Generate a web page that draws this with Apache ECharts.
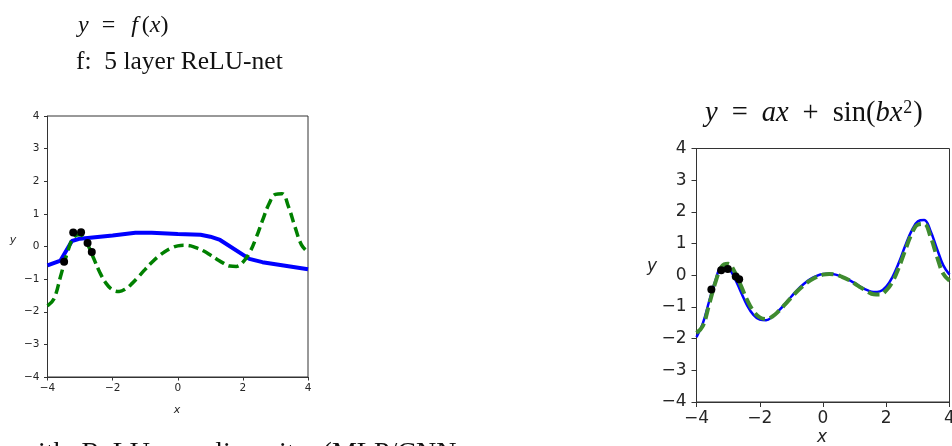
<!DOCTYPE html>
<html>
<head>
<meta charset="utf-8">
<script src="https://cdn.jsdelivr.net/npm/echarts@6/dist/echarts.min.js"></script>
<style>
html, body { margin: 0; padding: 0; background: #fff; }
#chart { width: 952px; height: 446px; }
</style>
</head>
<body>
<div id="chart"></div>
<script>
// x samples for the smooth curves
const xs = [-4.0, -3.8, -3.6, -3.4, -3.2, -3.0, -2.8, -2.6, -2.4, -2.2, -2.0, -1.8, -1.6, -1.4, -1.2, -1.0, -0.8, -0.6, -0.4, -0.2,
    0.0, 0.2, 0.4, 0.6, 0.8, 1.0, 1.2, 1.4, 1.6, 1.8, 2.0, 2.2, 2.4, 2.6, 2.8, 3.0, 3.2, 3.4, 3.6, 3.8, 4.0];

// true function y = ax + sin(bx^2) (green dashed, both panels)
const trueY = [-1.82, -1.60, -0.92, -0.22, 0.28, 0.36, 0.12, -0.32, -0.78, -1.13, -1.33, -1.38, -1.30, -1.13, -0.92, -0.70, -0.49, -0.31, -0.16, -0.05,
    0.02, 0.04, 0.02, -0.05, -0.14, -0.26, -0.39, -0.51, -0.60, -0.61, -0.48, -0.20, 0.25, 0.79, 1.30, 1.60, 1.62, 1.22, 0.60, 0.05, -0.17];

// fitted curve in the right panel (blue)
const fitY = [-1.95, -1.52, -0.82, -0.16, 0.25, 0.22, -0.08, -0.52, -0.95, -1.25, -1.40, -1.42, -1.31, -1.12, -0.90, -0.67, -0.45, -0.27, -0.12, -0.02,
    0.04, 0.05, 0.02, -0.05, -0.14, -0.25, -0.37, -0.47, -0.53, -0.51, -0.36, -0.05, 0.40, 0.93, 1.40, 1.70, 1.74, 1.40, 0.85, 0.32, 0.02];

// 5 layer ReLU-net fit (left panel, piecewise linear)
const reluX = [-4.0, -3.6, -3.25, -3.0, -2.0, -1.3, -0.8, 0.0, 0.7, 1.0, 1.3, 2.2, 2.6, 4.0];
const reluY = [-0.58, -0.43, 0.17, 0.24, 0.34, 0.42, 0.42, 0.38, 0.36, 0.30, 0.20, -0.38, -0.48, -0.70];

// training samples
const leftPtsX = [-3.49, -3.21, -2.97, -2.77, -2.64];
const leftPtsY = [-0.47, 0.43, 0.44, 0.11, -0.17];
const rightPtsX = [-3.53, -3.22, -3.01, -2.76, -2.65];
const rightPtsY = [-0.45, 0.16, 0.20, -0.04, -0.13];

const pairs = (a, b) => a.map((v, i) => [v, b[i]]);
const minus = v => String(v).replace('-', '\u2212');

const chart = echarts.init(document.getElementById('chart'));

function xAxis(idx, fs, margin, tick) {
    return {
        type: 'value', gridIndex: idx, min: -4, max: 4, interval: 2,
        axisLine: { show: true, onZero: false, lineStyle: { color: '#333', width: 1 } },
        axisTick: { show: true, length: tick, lineStyle: { color: '#333' } },
        axisLabel: { fontSize: fs, color: '#262626', margin: margin, fontFamily: 'DejaVu Sans', formatter: minus,
            showMinLabel: true, showMaxLabel: true },
        splitLine: { show: false }
    };
}
function yAxis(idx, fs, margin, tick) {
    return {
        type: 'value', gridIndex: idx, min: -4, max: 4, interval: 1,
        axisLine: { show: true, onZero: false, lineStyle: { color: '#333', width: 1 } },
        axisTick: { show: true, length: tick, lineStyle: { color: '#333' } },
        axisLabel: { fontSize: fs, color: '#262626', margin: margin, fontFamily: 'DejaVu Sans', formatter: minus },
        splitLine: { show: false }
    };
}

const serif = 'Liberation Serif, DejaVu Serif, serif';

chart.setOption({
    animation: false,
    grid: [
        { left: 47.5, top: 116, width: 260.5, height: 261, show: true, borderColor: '#333', borderWidth: 1,
          outerBoundsMode: 'none', containLabel: false },
        { left: 696.5, top: 148.5, width: 253, height: 253.5, show: true, borderColor: '#333', borderWidth: 1,
          outerBoundsMode: 'none', containLabel: false }
    ],
    xAxis: [xAxis(0, 10.5, 6, 3.5), xAxis(1, 17, 8, 5)],
    yAxis: [yAxis(0, 10.5, 8, 3.5), yAxis(1, 17, 10, 5)],
    graphic: [
        { type: 'text', left: 78, top: 14, style: {
            text: '{i|y}{o|=}{f|f}({i|x})', font: '24px ' + serif, fill: '#111',
            rich: { i: { fontStyle: 'italic', fontSize: 24, fontFamily: serif },
                    f: { fontStyle: 'italic', fontSize: 24, fontFamily: serif, padding: [0, 4, 0, 3] },
                    o: { fontSize: 24, fontFamily: serif, padding: [0, 13] } } } },
        { type: 'text', left: 76, top: 49, style: { text: 'f:  5 layer ReLU-net', font: '25.5px ' + serif, fill: '#111' } },
        { type: 'text', left: 705, top: 99, style: {
            text: '{i|y}{o|=}{i|ax}{o|+}sin({i|bx}{s|2})', font: '28.5px ' + serif, fill: '#111',
            rich: { i: { fontStyle: 'italic', fontSize: 28.5, fontFamily: serif },
                    o: { fontSize: 28.5, fontFamily: serif, padding: [0, 14] },
                    s: { fontSize: 18, fontFamily: serif, verticalAlign: 'top', padding: [0, 1, 12, 1] } } } },
        { type: 'text', left: 38, top: 440, style: { text: 'ith  ReLU  non-linearity  (MLP/CNN', font: '28px ' + serif, fill: '#111' } },
        { type: 'text', x: 177, y: 410, style: { text: 'x', font: 'italic 11px DejaVu Sans', fill: '#262626', align: 'center', verticalAlign: 'middle' } },
        { type: 'text', x: 13, y: 240, style: { text: 'y', font: 'italic 11px DejaVu Sans', fill: '#262626', align: 'center', verticalAlign: 'middle' } },
        { type: 'text', x: 822, y: 438, style: { text: 'x', font: 'italic 17px DejaVu Sans', fill: '#262626', align: 'center', verticalAlign: 'middle' } },
        { type: 'text', x: 652, y: 267, style: { text: 'y', font: 'italic 17px DejaVu Sans', fill: '#262626', align: 'center', verticalAlign: 'middle' } }
    ],
    series: [
        { type: 'line', xAxisIndex: 0, yAxisIndex: 0, data: pairs(reluX, reluY), showSymbol: false,
          lineStyle: { color: '#0000ff', width: 4 }, z: 2 },
        { type: 'line', xAxisIndex: 0, yAxisIndex: 0, data: pairs(xs, trueY), smooth: 0.4, showSymbol: false,
          lineStyle: { color: '#008000', width: 3.5, type: [10, 5] }, z: 3 },
        { type: 'scatter', xAxisIndex: 0, yAxisIndex: 0, data: pairs(leftPtsX, leftPtsY), symbolSize: 8,
          itemStyle: { color: '#000', opacity: 1 }, z: 4 },
        { type: 'line', xAxisIndex: 1, yAxisIndex: 1, data: pairs(xs, fitY), smooth: 0.4, showSymbol: false,
          lineStyle: { color: '#0000ff', width: 2.5 }, z: 2 },
        { type: 'line', xAxisIndex: 1, yAxisIndex: 1, data: pairs(xs, trueY), smooth: 0.4, showSymbol: false,
          lineStyle: { color: '#3f8b2f', width: 4, type: [12, 5] }, z: 3 },
        { type: 'scatter', xAxisIndex: 1, yAxisIndex: 1, data: pairs(rightPtsX, rightPtsY), symbolSize: 8,
          itemStyle: { color: '#000', opacity: 1 }, z: 4 }
    ]
});
</script>
</body>
</html>
